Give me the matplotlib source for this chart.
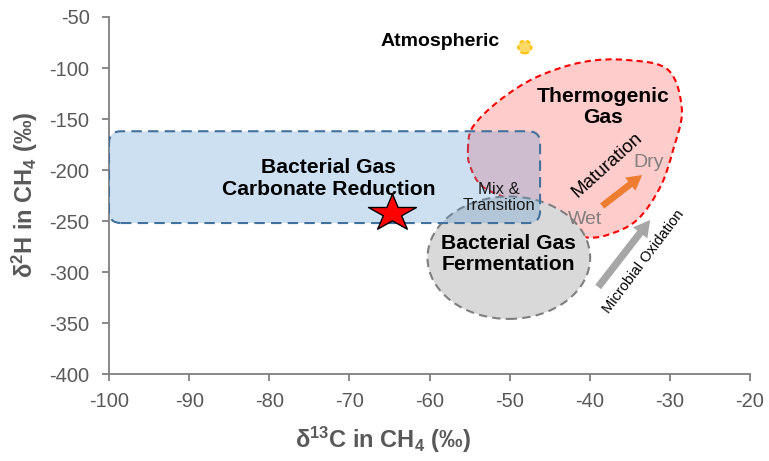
import numpy as np
import matplotlib
matplotlib.use('Agg')
import matplotlib.pyplot as plt
from matplotlib.patches import FancyBboxPatch, Ellipse, PathPatch, FancyArrowPatch
from matplotlib.path import Path

plt.rcParams['font.family'] = ['Liberation Sans', 'DejaVu Sans']
plt.rcParams['mathtext.fontset'] = 'custom'
plt.rcParams['mathtext.rm'] = 'Liberation Sans:bold'
plt.rcParams['mathtext.bf'] = 'Liberation Sans:bold'
plt.rcParams['mathtext.default'] = 'rm'
plt.rcParams['axes.unicode_minus'] = False

# ---------------- data ----------------
x_ticks = [-100, -90, -80, -70, -60, -50, -40, -30, -20]
y_ticks = [-400, -350, -300, -250, -200, -150, -100, -50]

# Thermogenic gas field outline (d13C, d2H)
thermo_x = [-55.2, -54.6, -51.2, -46.6, -40.8, -35.3, -30.2, -28.5, -29.6,
            -31.2, -34.1, -37.8, -40.8, -43.7, -49.1, -53.3, -54.9]
thermo_y = [-180.4, -157.8, -131.4, -108.8, -94.1, -92.2, -102.0, -141.2, -180.4,
            -216.7, -249.0, -263.7, -265.7, -255.9, -232.4, -216.7, -197.0]

# Bacterial gas - carbonate reduction field (box)
carb_x = [-100.0, -46.2]
carb_y = [-252.0, -162.0]

# Bacterial gas - fermentation field (ellipse)
ferm_center = [-50.1, -286.0]
ferm_size = [20.3, 120.0]

# Sample (star) and atmospheric methane
sample_x = [-64.7]
sample_y = [-242.0]
atmos_x = [-48.1]
atmos_y = [-79.4]

# Process arrows
maturation_x = [-38.45, -33.46]
maturation_y = [-235.3, -204.9]
oxidation_x = [-38.95, -32.46]
oxidation_y = [-314.7, -249.0]

# ---------------- figure ----------------
fig = plt.figure(figsize=(7.69, 4.61), dpi=100)
ax = fig.add_axes([109/769, 87/461, 641/769, 357/461])
ax.set_xlim(x_ticks[0], x_ticks[-1])
ax.set_ylim(y_ticks[0], y_ticks[-1])
ax.set_xticks(x_ticks)
ax.set_yticks(y_ticks)

spine_c = '#7f7f7f'
tick_c = '#595959'
for s in ['top', 'right']:
    ax.spines[s].set_visible(False)
for s in ['left', 'bottom']:
    ax.spines[s].set_color(spine_c)
    ax.spines[s].set_linewidth(1.3)
ax.tick_params(direction='out', length=5, width=1.3, color=spine_c,
               labelcolor=tick_c, labelsize=14.5)
ax.tick_params(axis='y', pad=9)
ax.tick_params(axis='x', pad=8)

# Thermogenic field: smooth closed curve (Catmull-Rom -> cubic Bezier)
P = np.column_stack([thermo_x, thermo_y])
n = len(P)
verts = [P[0]]
codes = [Path.MOVETO]
for i in range(n):
    p0, p1, p2, p3 = P[i - 1], P[i], P[(i + 1) % n], P[(i + 2) % n]
    c1 = p1 + (p2 - p0) / 6.0
    c2 = p2 - (p3 - p1) / 6.0
    verts += [c1, c2, p2]
    codes += [Path.CURVE4] * 3
thermo_path = Path(verts, codes)
ax.add_patch(PathPatch(thermo_path, facecolor=(1, 0, 0, 0.2), edgecolor='#ff0000',
                       linewidth=1.5, linestyle=(0, (3, 2)), zorder=1))

# Fermentation field
ax.add_patch(Ellipse(ferm_center, ferm_size[0], ferm_size[1], facecolor='#d9d9d9',
                     edgecolor='#7f7f7f', linewidth=1.5, linestyle=(0, (4, 2.5)),
                     zorder=2))

# Carbonate reduction field
rx = 1.5
aspect = (12 / 1.02) / rx
ax.add_patch(FancyBboxPatch((carb_x[0], carb_y[0]), carb_x[1] - carb_x[0],
                            carb_y[1] - carb_y[0],
                            boxstyle=f'round,pad=0,rounding_size={rx}',
                            mutation_aspect=aspect,
                            facecolor=(91/255, 155/255, 213/255, 0.3),
                            edgecolor='#41719c', linewidth=1.5,
                            linestyle=(0, (5, 3)), zorder=3))

# Atmospheric methane
ax.add_patch(Ellipse((atmos_x[0], atmos_y[0]), 1.65, 12.5, facecolor='#ffd966',
                     edgecolor='#ffc000', linewidth=1.5, linestyle=(0, (2, 1.5)),
                     zorder=4))

# Star marker (slightly wide star)
ang_o = np.deg2rad(90 + 72 * np.arange(5))
ang_i = np.deg2rad(90 + 36 + 72 * np.arange(5))
sv = []
for a, b in zip(ang_o, ang_i):
    sv.append((1.3 * np.cos(a), np.sin(a)))
    sv.append((1.3 * 0.382 * np.cos(b), 0.382 * np.sin(b)))
sv.append(sv[0])
ax.plot(sample_x, sample_y, linestyle='none', marker=sv, markersize=34.5,
        markerfacecolor='#ff0000', markeredgecolor='black', markeredgewidth=1.0,
        zorder=6)

# Arrows
ax.add_patch(FancyArrowPatch((maturation_x[0], maturation_y[0]),
                             (maturation_x[1], maturation_y[1]),
                             arrowstyle='simple,head_width=1.0,head_length=0.9,tail_width=0.4',
                             mutation_scale=12, color='#ed7d31', linewidth=0, zorder=5,
                             shrinkA=0, shrinkB=0))
ax.add_patch(FancyArrowPatch((oxidation_x[0], oxidation_y[0]),
                             (oxidation_x[1], oxidation_y[1]),
                             arrowstyle='simple,head_width=1.0,head_length=0.9,tail_width=0.4',
                             mutation_scale=13, color='#a6a6a6', linewidth=0, zorder=5,
                             shrinkA=0, shrinkB=0))

# Texts
ax.text(-51.2, -74.5, 'Atmospheric', ha='right', va='center', fontsize=14,
        fontweight='bold', color='black', zorder=7)
ax.text(-38.3, -138.0, 'Thermogenic\nGas', ha='center', va='center', fontsize=15.2,
        fontweight='bold', color='black', linespacing=1.15, zorder=7)
ax.text(-72.6, -208.3, 'Bacterial Gas\nCarbonate Reduction', ha='center', va='center',
        fontsize=15.2, fontweight='bold', color='black', linespacing=1.15, zorder=7)
ax.text(-50.2, -282.4, 'Bacterial Gas\nFermentation', ha='center', va='center',
        fontsize=15.2, fontweight='bold', color='black', linespacing=1.15, zorder=7)
ax.text(-51.3, -227.0, 'Mix &\nTransition', ha='center', va='center', fontsize=12,
        color='#1a1a1a', linespacing=1.1, zorder=7)
ax.text(-37.8, -195.1, 'Maturation', ha='center', va='center', fontsize=13.5,
        rotation=42, rotation_mode='anchor', color='black', zorder=7)
ax.text(-32.7, -192.2, 'Dry', ha='center', va='center', fontsize=14,
        color='#808080', zorder=7)
ax.text(-40.6, -249.0, 'Wet', ha='center', va='center', fontsize=14,
        color='#808080', zorder=7)
ax.text(-33.3, -290.2, 'Microbial Oxidation', ha='center', va='center', fontsize=10.5,
        rotation=53, rotation_mode='anchor', color='black', zorder=7)

# Axis labels
ax.text((383 - 109) / 641, (374 - 440) / 357, r'δ$^{13}$C in CH$_{4}$ (‰)',
        transform=ax.transAxes, ha='center', va='center', fontsize=17,
        fontweight='bold', color=tick_c)
ax.text((25 - 109) / 641, (374 - 195) / 357, r'δ$^{2}$H in CH$_{4}$ (‰)',
        transform=ax.transAxes, ha='center', va='center', fontsize=17,
        fontweight='bold', color=tick_c, rotation=90)

fig.savefig('out.png', dpi=100)
